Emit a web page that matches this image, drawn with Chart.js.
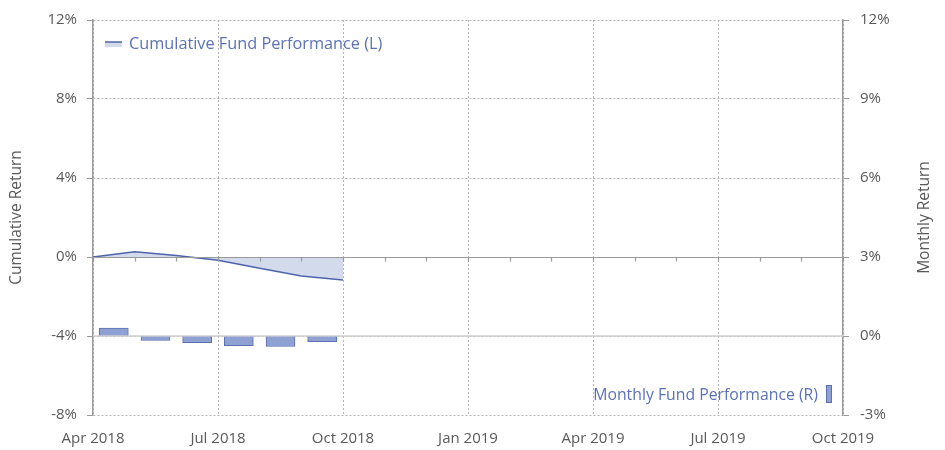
<!DOCTYPE html>
<html>
<head>
<meta charset="utf-8">
<script src="https://cdn.jsdelivr.net/npm/chart.js@4.4.1/dist/chart.umd.min.js"></script>
<style>
  html, body { margin: 0; padding: 0; background: #fff; }
  #wrap { width: 945px; height: 450px; position: relative; }
</style>
</head>
<body>
<div id="wrap"><canvas id="c" width="945" height="450"></canvas></div>
<script>
// ---- data ----
const cumulativeMonths = ['Apr 2018', 'May 2018', 'Jun 2018', 'Jul 2018', 'Aug 2018', 'Sep 2018', 'Oct 2018'];
const cumulativeReturn = [0, 0.27, 0.07, -0.17, -0.57, -0.96, -1.17];
const monthlyMonths = ['Apr 2018', 'May 2018', 'Jun 2018', 'Jul 2018', 'Aug 2018', 'Sep 2018'];
const monthlyReturn = [0.30, -0.17, -0.25, -0.37, -0.40, -0.22];
const axisMonths = ['Apr 2018', 'May 2018', 'Jun 2018', 'Jul 2018', 'Aug 2018', 'Sep 2018', 'Oct 2018',
  'Nov 2018', 'Dec 2018', 'Jan 2019', 'Feb 2019', 'Mar 2019', 'Apr 2019', 'May 2019', 'Jun 2019',
  'Jul 2019', 'Aug 2019', 'Sep 2019', 'Oct 2019'];
const xTickLabels = ['Apr 2018', 'Jul 2018', 'Oct 2018', 'Jan 2019', 'Apr 2019', 'Jul 2019', 'Oct 2019'];
const leftTicks = [-8, -4, 0, 4, 8, 12];
const rightTicks = [-3, 0, 3, 6, 9, 12];
const seriesNames = ['Cumulative Fund Performance (L)', 'Monthly Fund Performance (R)'];
const axisTitles = ['Cumulative Return', 'Monthly Return'];

// month label -> position on month axis (start of month); bars sit mid-month
const monthPos = m => axisMonths.indexOf(m);

const FONT = '"Open Sans", "Segoe UI", sans-serif';
const TXT = '#595959';
const LINE = '#4d64aa';
const FILL = 'rgba(196, 206, 230, 0.75)';
const BAR = '#8fa0d2';
const BARB = '#5a71b3';
const LEG = '#5b72b8';
const AXIS = '#9a9a9a';
const GRID = '#b5b5b5';
const TICKSIZE = 15;

const extras = {
  id: 'extras',
  beforeDatasetsDraw(chart) {
    const {ctx, chartArea: a, scales} = chart;
    const y1 = scales.y1.getPixelForValue(0);
    ctx.save();
    ctx.strokeStyle = '#cfcfcf';
    ctx.lineWidth = 1.5;
    ctx.beginPath();
    ctx.moveTo(a.left, y1); ctx.lineTo(a.right, y1);
    ctx.stroke();
    ctx.restore();
  },
  afterDatasetsDraw(chart) {
    const {ctx, chartArea: a, scales} = chart;
    const y0 = Math.round(scales.y.getPixelForValue(0)) + 0.5;
    ctx.save();
    ctx.strokeStyle = AXIS;
    ctx.lineWidth = 1.2;
    ctx.beginPath();
    ctx.moveTo(a.left, y0); ctx.lineTo(a.right, y0);
    axisMonths.forEach((m, i) => {
      const x = Math.round(scales.x.getPixelForValue(i)) + 0.5;
      ctx.moveTo(x, y0); ctx.lineTo(x, y0 + 4);
    });
    ctx.stroke();

    // axis titles (both read bottom-to-top)
    ctx.font = '15.5px ' + FONT;
    ctx.fillStyle = TXT;
    ctx.textAlign = 'center';
    ctx.textBaseline = 'middle';
    const cy = (a.top + a.bottom) / 2;
    [[17, axisTitles[0]], [925, axisTitles[1]]].forEach(([x, t]) => {
      ctx.save();
      ctx.translate(x, cy);
      ctx.rotate(-Math.PI / 2);
      ctx.fillText(t, 0, 0);
      ctx.restore();
    });

    // legends
    ctx.font = '16.3px ' + FONT;
    ctx.textBaseline = 'middle';
    // cumulative legend (top-left)
    const lx = a.left + 12, ly = a.top + 24;
    ctx.fillStyle = FILL;
    ctx.fillRect(lx, ly - 2, 17, 5);
    ctx.strokeStyle = LINE;
    ctx.lineWidth = 1.5;
    ctx.beginPath(); ctx.moveTo(lx, ly - 2); ctx.lineTo(lx + 17, ly - 2); ctx.stroke();
    ctx.fillStyle = LEG;
    ctx.textAlign = 'left';
    ctx.fillText(seriesNames[0], lx + 24, ly);
    // monthly legend (bottom-right)
    ctx.font = '15.8px ' + FONT;
    const rx = a.right - 17, ry = a.bottom - 30;
    ctx.fillStyle = BAR;
    ctx.fillRect(rx, ry, 6, 18);
    ctx.strokeStyle = BARB;
    ctx.lineWidth = 1;
    ctx.strokeRect(rx + 0.5, ry + 0.5, 5, 17);
    ctx.fillStyle = LEG;
    ctx.textAlign = 'right';
    ctx.fillText(seriesNames[1], rx - 8, ry + 10);
    ctx.restore();
  }
};

new Chart(document.getElementById('c'), {
  data: {
    datasets: [
      {
        type: 'line',
        label: seriesNames[0],
        data: cumulativeMonths.map((m, i) => ({x: monthPos(m), y: cumulativeReturn[i]})),
        yAxisID: 'y',
        borderColor: LINE,
        borderWidth: 1.5,
        backgroundColor: FILL,
        fill: 'origin',
        pointRadius: 0,
        tension: 0,
        order: 1
      },
      {
        type: 'bar',
        label: seriesNames[1],
        data: monthlyMonths.map((m, i) => ({x: monthPos(m) + 0.5, y: monthlyReturn[i]})),
        yAxisID: 'y1',
        backgroundColor: BAR,
        borderColor: BARB,
        borderWidth: 1,
        barThickness: 29,
        order: 2
      }
    ]
  },
  options: {
    responsive: false,
    animation: false,
    layout: { padding: { top: 18, left: 0, right: 0, bottom: 0 } },
    plugins: { legend: { display: false }, tooltip: { enabled: false } },
    scales: {
      x: {
        type: 'linear',
        offset: false,
        min: 0,
        max: axisMonths.length - 1,
        afterBuildTicks: s => { s.ticks = xTickLabels.map(l => ({value: monthPos(l)})); },
        afterFit: s => { s.height = 35; },
        ticks: {
          autoSkip: false,
          maxRotation: 0,
          color: TXT,
          font: { family: FONT, size: TICKSIZE },
          padding: 15,
          callback: v => axisMonths[v]
        },
        grid: { offset: false, color: GRID, drawTicks: false, lineWidth: 1 },
        border: { display: false, dash: [2, 2] }
      },
      y: {
        type: 'linear',
        position: 'left',
        min: -8,
        max: 12,
        afterBuildTicks: s => { s.ticks = leftTicks.map(v => ({value: v})); },
        afterFit: s => { s.width = 93; },
        ticks: {
          color: TXT,
          font: { family: FONT, size: TICKSIZE },
          padding: 10,
          callback: v => v + '%'
        },
        grid: { color: c => c.tick && c.tick.value === 0 ? 'rgba(0,0,0,0)' : GRID, tickColor: AXIS, tickLength: 6, lineWidth: 1 },
        border: { display: true, color: AXIS, width: 1.5, dash: [2, 2] }
      },
      y1: {
        type: 'linear',
        position: 'right',
        min: -3,
        max: 12,
        afterBuildTicks: s => { s.ticks = rightTicks.map(v => ({value: v})); },
        afterFit: s => { s.width = 102; },
        ticks: {
          color: TXT,
          font: { family: FONT, size: TICKSIZE },
          padding: 11,
          callback: v => v + '%'
        },
        grid: { drawOnChartArea: false, tickColor: AXIS, tickLength: 6 },
        border: { display: true, color: AXIS, width: 1.5 }
      }
    }
  },
  plugins: [extras]
});
</script>
</body>
</html>
